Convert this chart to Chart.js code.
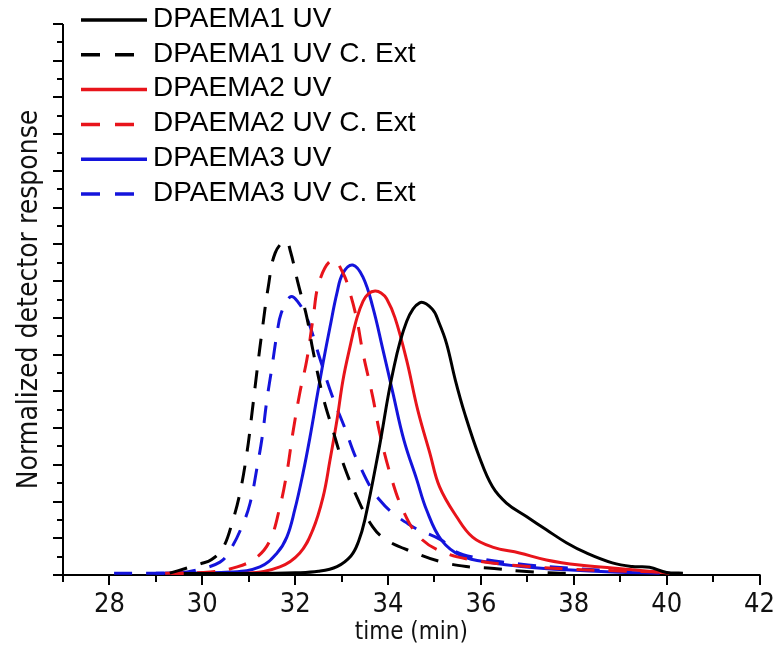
<!DOCTYPE html>
<html>
<head>
<meta charset="utf-8">
<title>SEC traces</title>
<script src="https://cdn.jsdelivr.net/npm/chart.js@4.4.1/dist/chart.umd.min.js"></script>
<style>
  html, body { margin: 0; padding: 0; background: #fff; }
  #wrap { width: 779px; height: 648px; }
</style>
</head>
<body>
<div id="wrap"><canvas id="sec" width="779" height="648"></canvas></div>
<script>
// elution time (min) and normalized response for each trace
const time1UV = [29.6, 31.0, 32.0, 32.5, 32.9, 33.2, 33.36, 33.5, 33.8, 34.1, 34.4, 34.68, 34.95, 35.1, 35.26, 35.45, 35.65, 35.97, 36.25, 36.55, 36.98, 37.41, 37.84, 38.27, 38.83, 39.26, 39.63, 40.0, 40.35];
const resp1UV = [0.004, 0.004, 0.006, 0.010, 0.023, 0.052, 0.09, 0.15, 0.34, 0.55, 0.69, 0.741, 0.724, 0.686, 0.63, 0.53, 0.44, 0.32, 0.24, 0.196, 0.159, 0.123, 0.088, 0.06, 0.033, 0.023, 0.021, 0.007, 0.005];

const time1Ext = [29.3, 29.67, 29.95, 30.2, 30.45, 30.66, 30.81, 30.96, 31.07, 31.18, 31.29, 31.42, 31.57, 31.8, 31.9, 32.06, 32.25, 32.38, 32.6, 32.81, 33.03, 33.33, 33.67, 33.97, 34.53, 35.17, 35.76, 36.15, 36.83, 37.69, 38.0];
const resp1Ext = [0.005, 0.019, 0.030, 0.042, 0.075, 0.150, 0.223, 0.332, 0.441, 0.558, 0.667, 0.784, 0.877, 0.91, 0.88, 0.795, 0.702, 0.613, 0.485, 0.395, 0.305, 0.212, 0.131, 0.095, 0.063, 0.035, 0.022, 0.019, 0.011, 0.005, 0.005];

const time2UV = [29.3, 30.96, 31.67, 32.1, 32.38, 32.6, 32.75, 32.9, 33.03, 33.18, 33.33, 33.46, 33.58, 33.72, 33.85, 33.97, 34.15, 34.4, 34.64, 34.9, 35.11, 35.48, 35.82, 36.25, 36.83, 37.41, 38.12, 38.83, 39.56, 40.06];
const resp2UV = [0.005, 0.005, 0.022, 0.06, 0.123, 0.212, 0.313, 0.422, 0.531, 0.621, 0.700, 0.745, 0.766, 0.773, 0.768, 0.752, 0.700, 0.585, 0.449, 0.332, 0.240, 0.158, 0.103, 0.076, 0.06, 0.041, 0.027, 0.019, 0.011, 0.005];

const time2Ext = [29.2, 30.17, 30.75, 31.18, 31.46, 31.67, 31.82, 31.95, 32.1, 32.25, 32.38, 32.53, 32.81, 33.03, 33.18, 33.33, 33.46, 33.67, 33.82, 34.04, 34.32, 34.68, 35.17, 35.82, 36.83, 37.9, 38.99, 39.95];
const resp2Ext = [0.005, 0.008, 0.022, 0.049, 0.095, 0.185, 0.278, 0.387, 0.496, 0.585, 0.694, 0.803, 0.858, 0.822, 0.768, 0.694, 0.604, 0.485, 0.387, 0.278, 0.177, 0.103, 0.063, 0.041, 0.025, 0.016, 0.011, 0.008];

const time3UV = [29.0, 30.6, 31.24, 31.61, 31.82, 31.99, 32.17, 32.32, 32.47, 32.6, 32.75, 32.9, 33.03, 33.24, 33.46, 33.67, 33.89, 34.1, 34.34, 34.62, 34.83, 35.15, 35.58, 36.25, 36.98, 37.84, 38.83, 39.85];
const resp3UV = [0.005, 0.008, 0.022, 0.06, 0.103, 0.177, 0.278, 0.376, 0.485, 0.577, 0.675, 0.768, 0.822, 0.844, 0.811, 0.730, 0.613, 0.498, 0.368, 0.259, 0.177, 0.095, 0.052, 0.033, 0.022, 0.014, 0.008, 0.005];

const time3Ext = [28.1, 29.5, 29.89, 30.38, 30.6, 30.85, 31.03, 31.18, 31.29, 31.39, 31.5, 31.61, 31.7, 31.89, 32.05, 32.27, 32.53, 32.79, 33.07, 33.35, 33.82, 34.47, 35.15, 35.39, 35.82, 36.83, 37.9, 38.99, 39.85];
const resp3Ext = [0.005, 0.006, 0.014, 0.035, 0.068, 0.131, 0.196, 0.294, 0.376, 0.476, 0.566, 0.659, 0.713, 0.757, 0.745, 0.694, 0.59, 0.49, 0.40, 0.308, 0.204, 0.136, 0.095, 0.068, 0.049, 0.03, 0.019, 0.011, 0.008];

const seriesNames = ['DPAEMA1 UV', 'DPAEMA1 UV C. Ext', 'DPAEMA2 UV', 'DPAEMA2 UV C. Ext', 'DPAEMA3 UV', 'DPAEMA3 UV C. Ext'];
const xTickValues = [28, 30, 32, 34, 36, 38, 40, 42];

const BLACK = '#000000';
const RED = '#e8141b';
const BLUE = '#1414dc';
const DASH = [18, 14];
const tickFont = "'DejaVu Sans Condensed', 'Liberation Sans Narrow', sans-serif";

function pts(t, r) {
    return t.map((v, i) => ({ x: v, y: r[i] }));
}

function trace(label, t, r, color, dashed) {
    return {
        label,
        data: pts(t, r),
        borderColor: color,
        borderWidth: 3,
        borderDash: dashed ? DASH : [],
        borderCapStyle: 'butt',
        borderJoinStyle: 'round',
        pointRadius: 0,
        fill: false,
        tension: 0.4
    };
}

// axis lines with long ticks on majors and short ones on minors
const axisFrame = {
    id: 'axisFrame',
    beforeDatasetsDraw(chart) {
        const { ctx, chartArea: a, scales: { x, y } } = chart;
        ctx.save();
        ctx.strokeStyle = '#000';
        ctx.lineWidth = 2;
        ctx.beginPath();
        ctx.moveTo(a.left, a.top);
        ctx.lineTo(a.left, a.bottom);
        ctx.lineTo(a.right + 1, a.bottom);
        for (let v = x.min; v <= x.max; v++) {
            const px = Math.round(x.getPixelForValue(v));
            ctx.moveTo(px, a.bottom);
            ctx.lineTo(px, a.bottom + (v % 2 === 0 ? 10 : 7));
        }
        for (let i = 0; i <= 30; i++) {
            const py = Math.round(y.getPixelForValue(i * 0.05));
            ctx.moveTo(a.left, py);
            ctx.lineTo(a.left - (i % 2 === 0 ? 10 : 6), py);
        }
        ctx.stroke();
        ctx.restore();
    }
};

// legend block in the upper left, drawn from the dataset styles
const sampleLegend = {
    id: 'sampleLegend',
    afterDraw(chart) {
        const { ctx } = chart;
        ctx.save();
        ctx.font = "28px 'Liberation Sans', Arial, sans-serif";
        ctx.textBaseline = 'middle';
        ctx.fillStyle = '#000';
        chart.data.datasets.forEach((ds, i) => {
            const yy = 19 + i * 34.8;
            ctx.beginPath();
            ctx.strokeStyle = ds.borderColor;
            ctx.lineWidth = 3.5;
            ctx.setLineDash(ds.borderDash.length ? [19, 15] : []);
            ctx.moveTo(81, yy + 1);
            ctx.lineTo(147, yy + 1);
            ctx.stroke();
            ctx.fillText(ds.label, 153, yy);
        });
        ctx.restore();
    }
};

new Chart(document.getElementById('sec'), {
    type: 'line',
    data: {
        datasets: [
            trace(seriesNames[0], time1UV, resp1UV, BLACK, false),
            trace(seriesNames[1], time1Ext, resp1Ext, BLACK, true),
            trace(seriesNames[2], time2UV, resp2UV, RED, false),
            trace(seriesNames[3], time2Ext, resp2Ext, RED, true),
            trace(seriesNames[4], time3UV, resp3UV, BLUE, false),
            trace(seriesNames[5], time3Ext, resp3Ext, BLUE, true)
        ]
    },
    options: {
        responsive: false,
        animation: false,
        layout: { padding: { top: 24, right: 19, left: 0, bottom: 0 } },
        plugins: {
            legend: { display: false },
            tooltip: { enabled: false }
        },
        scales: {
            x: {
                type: 'linear',
                min: 27,
                max: 42,
                afterBuildTicks(scale) {
                    scale.ticks = xTickValues.map(v => ({ value: v }));
                },
                afterFit(scale) { scale.height = 73; },
                grid: { display: false, drawTicks: true, tickLength: 10 },
                border: { display: false },
                ticks: {
                    padding: 4,
                    maxRotation: 0,
                    autoSkip: false,
                    color: '#111',
                    font: { family: tickFont, size: 27 }
                },
                title: {
                    display: true,
                    text: 'time (min)',
                    color: '#111',
                    padding: { top: 0, bottom: 1 },
                    font: { family: tickFont, size: 24 }
                }
            },
            y: {
                min: 0,
                max: 1.5,
                afterFit(scale) { scale.width = 63; },
                grid: { display: false },
                border: { display: false },
                ticks: { display: false, stepSize: 0.1 },
                title: {
                    display: true,
                    text: 'Normalized detector response',
                    color: '#111',
                    padding: { top: 13, bottom: 0 },
                    font: { family: tickFont, size: 28 }
                }
            }
        }
    },
    plugins: [axisFrame, sampleLegend]
});
</script>
</body>
</html>
